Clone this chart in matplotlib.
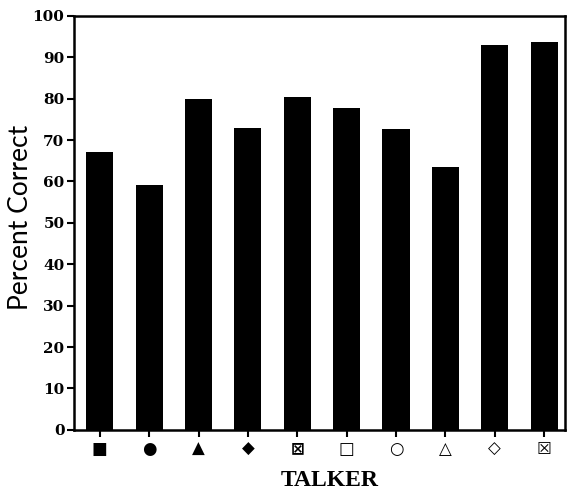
import matplotlib
matplotlib.use("Agg")
import matplotlib.pyplot as plt

talkers = ["■", "●", "▲", "◆", "⊠", "□", "○", "△", "◇", "☒"]
percent_correct = [67.1, 59.2, 80.0, 72.9, 80.4, 77.7, 72.7, 63.5, 93.0, 93.6]
yticks = [0, 10, 20, 30, 40, 50, 60, 70, 80, 90, 100]

fig = plt.figure(figsize=(5.70, 4.93), dpi=100)
ax = fig.add_axes([0.130, 0.128, 0.861, 0.840])

x = list(range(len(talkers)))
ax.bar(x, percent_correct, width=0.55, color="black")

ax.set_xlim(-0.52, 9.42)
ax.set_ylim(0, 100)
ax.set_yticks(yticks)
ax.set_yticklabels([str(v) for v in yticks], fontfamily="DejaVu Serif",
                   fontweight="bold", fontsize=11)
ax.set_xticks(x)
ax.set_xticklabels(talkers, fontfamily="DejaVu Sans", fontweight="bold", fontsize=12)

for s in ax.spines.values():
    s.set_linewidth(1.8)
    s.set_color("black")
ax.tick_params(axis="both", direction="out", length=5, width=1.5, colors="black")
ax.tick_params(axis="x", pad=2)
ax.tick_params(axis="y", pad=2)

ax.set_ylabel("Percent Correct", fontfamily="Lato", fontsize=19)
ax.yaxis.set_label_coords(-0.084, 0.512)
ax.set_xlabel("TALKER", fontfamily="Liberation Serif", fontweight="bold", fontsize=17)
ax.xaxis.set_label_coords(0.52, -0.097)

fig.savefig("out.png", dpi=100)
